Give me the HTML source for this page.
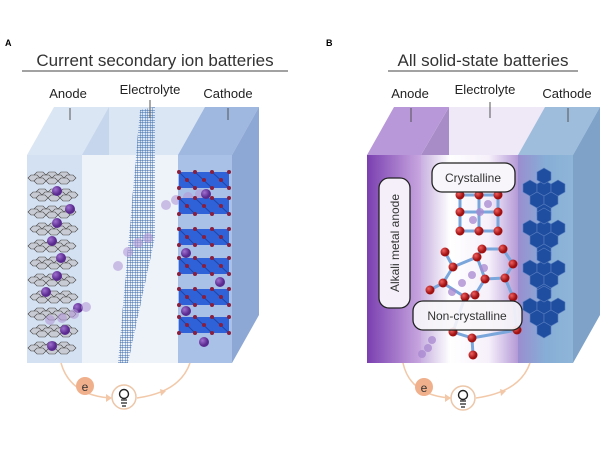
<!DOCTYPE html>
<html><head><meta charset="utf-8"><style>
html,body{margin:0;padding:0;background:#fff}
svg{display:block}
text{font-family:"Liberation Sans",sans-serif}
</style></head><body>
<svg width="600" height="450" viewBox="0 0 600 450" xmlns="http://www.w3.org/2000/svg">
<defs>
<linearGradient id="anB" x1="0" x2="1"><stop offset="0" stop-color="#7a3fb0"/><stop offset="1" stop-color="#c9a8e0"/></linearGradient>
<linearGradient id="elB" x1="0" x2="1"><stop offset="0" stop-color="#c8b0e0"/><stop offset="0.3" stop-color="#ffffff"/><stop offset="0.7" stop-color="#f6f0fa"/><stop offset="1" stop-color="#b59ad6"/></linearGradient>
<linearGradient id="caB" x1="0" x2="1"><stop offset="0" stop-color="#9a8ed0"/><stop offset="0.5" stop-color="#86aed6"/><stop offset="1" stop-color="#8fb6d8"/></linearGradient>
<pattern id="mesh" width="2.5" height="2.5" patternUnits="userSpaceOnUse"><path d="M0 0H2.5M0 0V2.5" stroke="#3a68a8" stroke-width="0.9" fill="none"/></pattern>
<g id="hx"><polygon points="-6,0 -3,-3 3,-3 6,0 3,3 -3,3" fill="#c8cbd3" stroke="#444" stroke-width="0.6"/></g>
<g id="layer">
<use href="#hx" x="10" y="0"/><use href="#hx" x="22" y="0"/><use href="#hx" x="34" y="0"/>
<use href="#hx" x="4" y="3"/><use href="#hx" x="16" y="3"/><use href="#hx" x="28" y="3"/><use href="#hx" x="40" y="3"/>
<use href="#hx" x="10" y="6"/><use href="#hx" x="22" y="6"/><use href="#hx" x="34" y="6"/>
</g>
<radialGradient id="pu" cx="0.35" cy="0.35"><stop offset="0" stop-color="#a070d0"/><stop offset="1" stop-color="#5a2a90"/></radialGradient>
<radialGradient id="rd" cx="0.35" cy="0.35"><stop offset="0" stop-color="#f06060"/><stop offset="1" stop-color="#a01010"/></radialGradient>
<g id="dh"><polygon points="0,-8 7,-4 7,4 0,8 -7,4 -7,-4" fill="#1f4ea0" stroke="#5a7ec0" stroke-width="0.6"/></g>
<g id="hg"><use href="#dh" x="0" y="0"/><use href="#dh" x="14" y="0"/><use href="#dh" x="28" y="0"/><use href="#dh" x="7" y="12"/><use href="#dh" x="21" y="12"/><use href="#dh" x="14" y="-12"/><use href="#dh" x="14" y="24"/></g>
<g id="crow">
<rect x="179" y="0" width="50" height="16" fill="#2f62d8"/>
<path d="M179 0L195 16M195 0L212 16M212 0L229 16" stroke="#1e45a8" stroke-width="1"/>
<g fill="#8a1e3c"><circle cx="179" cy="0" r="2"/><circle cx="195" cy="0" r="2"/><circle cx="212" cy="0" r="2"/><circle cx="229" cy="0" r="2"/>
<circle cx="179" cy="16" r="2"/><circle cx="195" cy="16" r="2"/><circle cx="212" cy="16" r="2"/><circle cx="229" cy="16" r="2"/>
<circle cx="187" cy="8" r="2"/><circle cx="204" cy="8" r="2"/><circle cx="221" cy="8" r="2"/></g>
</g>
</defs>

<!-- PANEL A -->
<text x="5" y="46" font-size="9" font-weight="bold">A</text>
<text x="155" y="66" font-size="17" text-anchor="middle" fill="#333">Current secondary ion batteries</text>
<line x1="22" y1="71" x2="288" y2="71" stroke="#444" stroke-width="1"/>
<text x="68" y="98" font-size="13" text-anchor="middle" fill="#222">Anode</text>
<text x="150" y="94" font-size="13" text-anchor="middle" fill="#222">Electrolyte</text>
<text x="228" y="98" font-size="13" text-anchor="middle" fill="#222">Cathode</text>

<polygon points="27,155 54,107 259,107 232,155" fill="#dbe6f4"/>
<polygon points="27,155 232,155 232,363 27,363" fill="#e2ebf6"/>
<polygon points="27,155 82,155 82,363 27,363" fill="#d4e1f2"/>
<polygon points="82,155 109,107 109,315 82,363" fill="#c6d6ec"/>
<polygon points="82,155 178,155 178,363 82,363" fill="#eef3fa"/>
<polygon points="178,155 205,107 259,107 232,155" fill="#9fb8e0"/>
<polygon points="178,155 232,155 232,363 178,363" fill="#a9c1e6"/>
<polygon points="232,155 259,107 259,315 232,363" fill="#8da8d4"/>
<polygon points="118,363 140,110 155,107 155,237 128,363" fill="url(#mesh)"/>
<line x1="70" y1="108" x2="70" y2="120" stroke="#555"/>
<line x1="150" y1="100" x2="150" y2="118" stroke="#555"/>
<line x1="228" y1="108" x2="228" y2="120" stroke="#555"/>
<g>
<use href="#layer" x="30" y="175"/><use href="#layer" x="32" y="192"/><use href="#layer" x="30" y="209"/><use href="#layer" x="32" y="226"/>
<use href="#layer" x="30" y="243"/><use href="#layer" x="32" y="260"/><use href="#layer" x="30" y="277"/><use href="#layer" x="32" y="294"/>
<use href="#layer" x="30" y="311"/><use href="#layer" x="32" y="328"/><use href="#layer" x="30" y="345"/>
</g>
<g fill="url(#pu)">
<circle cx="57" cy="191" r="5"/><circle cx="70" cy="209" r="5"/><circle cx="57" cy="223" r="5"/><circle cx="52" cy="241" r="5"/>
<circle cx="61" cy="258" r="5"/><circle cx="57" cy="276" r="5"/><circle cx="46" cy="292" r="5"/><circle cx="78" cy="308" r="5"/>
<circle cx="65" cy="330" r="5"/><circle cx="52" cy="346" r="5"/>
</g>
<g fill="#b39ad8" opacity="0.6">
<circle cx="86" cy="307" r="5"/><circle cx="74" cy="314" r="5"/><circle cx="62" cy="318" r="5"/><circle cx="50" cy="320" r="5"/>
<circle cx="148" cy="238" r="5"/><circle cx="138" cy="243" r="5"/><circle cx="128" cy="252" r="5"/><circle cx="118" cy="266" r="5"/>
<circle cx="200" cy="194" r="5"/><circle cx="188" cy="197" r="5"/><circle cx="176" cy="200" r="5"/><circle cx="166" cy="205" r="5"/>
</g>
<use href="#crow" y="172"/><use href="#crow" y="198"/><use href="#crow" y="229"/><use href="#crow" y="258"/><use href="#crow" y="289"/><use href="#crow" y="317"/>
<g fill="url(#pu)"><circle cx="206" cy="194" r="5"/><circle cx="186" cy="253" r="5"/><circle cx="220" cy="282" r="5"/><circle cx="186" cy="311" r="5"/><circle cx="204" cy="342" r="5"/></g>
<path d="M61 363 Q70 395 110 398" fill="none" stroke="#f2c8a8" stroke-width="1.5"/>
<path d="M137 398 Q180 392 190 363" fill="none" stroke="#f2c8a8" stroke-width="1.5"/>
<polygon points="106,394 112,398 106,402" fill="#f2c8a8"/>
<polygon points="160,389 166,391 161,396" fill="#f2c8a8"/>
<circle cx="85" cy="386" r="9" fill="#f0b08c"/>
<text x="85" y="391" font-size="12" text-anchor="middle" fill="#333">e</text>
<circle cx="124" cy="397" r="12" fill="#fff" stroke="#ecc6a8" stroke-width="1.5"/>
<circle cx="124" cy="394" r="4.5" fill="none" stroke="#222" stroke-width="1.4"/>
<path d="M121 400H127M121 403H127M122 406H126" stroke="#222" stroke-width="1.2"/>

<!-- PANEL B -->
<text x="326" y="46" font-size="9" font-weight="bold">B</text>
<text x="483" y="66" font-size="17" text-anchor="middle" fill="#333">All solid-state batteries</text>
<line x1="388" y1="71" x2="578" y2="71" stroke="#444" stroke-width="1"/>
<text x="410" y="98" font-size="13" text-anchor="middle" fill="#222">Anode</text>
<text x="485" y="94" font-size="13" text-anchor="middle" fill="#222">Electrolyte</text>
<text x="567" y="98" font-size="13" text-anchor="middle" fill="#222">Cathode</text>

<polygon points="394,107 449,107 421,155 367,155" fill="#b898d8"/>
<polygon points="449,107 545,107 518,155 421,155" fill="#efe8f6"/>
<polygon points="545,107 600,107 573,155 518,155" fill="#9ebcdc"/>
<rect x="367" y="155" width="54" height="208" fill="url(#anB)"/>
<polygon points="421,155 449,107 449,315 421,363" fill="#a88cc8"/>
<rect x="421" y="155" width="97" height="208" fill="url(#elB)"/>
<rect x="518" y="155" width="55" height="208" fill="url(#caB)"/>
<polygon points="573,155 600,107 600,315 573,363" fill="#7ea2c8"/>
<line x1="411" y1="108" x2="411" y2="122" stroke="#555"/>
<line x1="490" y1="102" x2="490" y2="118" stroke="#555"/>
<line x1="568" y1="108" x2="568" y2="122" stroke="#555"/>

<use href="#hg" x="530" y="188"/><use href="#hg" x="530" y="228"/><use href="#hg" x="530" y="268"/><use href="#hg" x="530" y="306"/>

<g stroke="#7aa6dc" stroke-width="3" fill="none">
<path d="M460 195H498V231H460ZM479 195V231M460 212H498"/>
<path d="M445 252L453 267L443 283L430 290M453 267L477 257L482 249L503 249L513 264L505 278L485 279L477 257M443 283L465 297L475 295L485 279M505 278L513 297L517 330M465 297L453 332L472 338L473 355M472 338L517 330"/>
</g>
<g fill="url(#rd)">
<circle cx="460" cy="195" r="4.5"/><circle cx="479" cy="195" r="4.5"/><circle cx="498" cy="195" r="4.5"/>
<circle cx="460" cy="212" r="4.5"/><circle cx="498" cy="212" r="4.5"/>
<circle cx="460" cy="231" r="4.5"/><circle cx="479" cy="231" r="4.5"/><circle cx="498" cy="231" r="4.5"/>
<circle cx="445" cy="252" r="4.5"/><circle cx="482" cy="249" r="4.5"/><circle cx="503" cy="249" r="4.5"/><circle cx="513" cy="264" r="4.5"/>
<circle cx="453" cy="267" r="4.5"/><circle cx="477" cy="257" r="4.5"/><circle cx="443" cy="283" r="4.5"/><circle cx="485" cy="279" r="4.5"/>
<circle cx="505" cy="278" r="4.5"/><circle cx="430" cy="290" r="4.5"/><circle cx="475" cy="295" r="4.5"/><circle cx="513" cy="297" r="4.5"/>
<circle cx="465" cy="297" r="4.5"/><circle cx="453" cy="332" r="4.5"/><circle cx="472" cy="338" r="4.5"/><circle cx="517" cy="330" r="4.5"/><circle cx="473" cy="355" r="4.5"/>
</g>
<g fill="#a888d0" opacity="0.75">
<circle cx="488" cy="204" r="4"/><circle cx="480" cy="212" r="4"/><circle cx="473" cy="220" r="4"/>
<circle cx="484" cy="268" r="4"/><circle cx="472" cy="275" r="4"/><circle cx="462" cy="283" r="4"/><circle cx="452" cy="292" r="4"/>
<circle cx="432" cy="340" r="4"/><circle cx="428" cy="348" r="4"/><circle cx="422" cy="354" r="4"/>
</g>
<rect x="432" y="163" width="83" height="29" rx="10" fill="#f8f6fa" stroke="#222" stroke-width="1.3"/>
<text x="473" y="182" font-size="12" text-anchor="middle" fill="#333">Crystalline</text>
<rect x="413" y="301" width="109" height="29" rx="10" fill="#f8f6fa" fill-opacity="0.9" stroke="#222" stroke-width="1.3"/>
<text x="467" y="320" font-size="12" text-anchor="middle" fill="#333">Non-crystalline</text>
<rect x="379" y="178" width="31" height="130" rx="10" fill="#f4eff8" stroke="#222" stroke-width="1.3"/>
<text x="0" y="0" font-size="12" text-anchor="middle" fill="#333" transform="translate(399,243) rotate(-90)">Alkali metal anode</text>

<path d="M403 363 Q410 395 450 398" fill="none" stroke="#f2c8a8" stroke-width="1.5"/>
<path d="M476 398 Q520 392 530 363" fill="none" stroke="#f2c8a8" stroke-width="1.5"/>
<polygon points="445,394 451,398 445,402" fill="#f2c8a8"/>
<polygon points="500,389 506,391 501,396" fill="#f2c8a8"/>
<circle cx="424" cy="387" r="9" fill="#f0b08c"/>
<text x="424" y="392" font-size="12" text-anchor="middle" fill="#333">e</text>
<circle cx="463" cy="398" r="12" fill="#fff" stroke="#ecc6a8" stroke-width="1.5"/>
<circle cx="463" cy="395" r="4.5" fill="none" stroke="#222" stroke-width="1.4"/>
<path d="M460 401H466M460 404H466M461 407H465" stroke="#222" stroke-width="1.2"/>
</svg>
</body></html>
